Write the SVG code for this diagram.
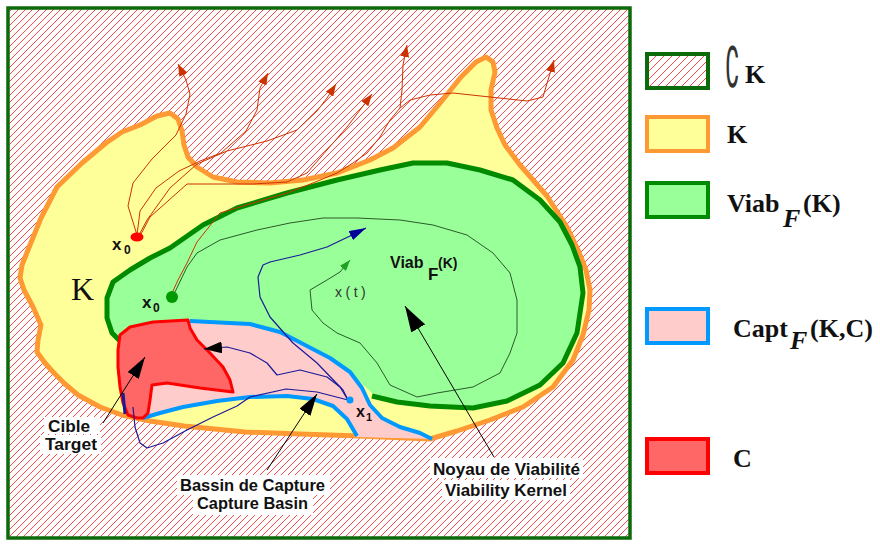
<svg xmlns="http://www.w3.org/2000/svg" width="880" height="544" viewBox="0 0 880 544">
<defs>
<pattern id="hatch" patternUnits="userSpaceOnUse" width="7" height="7">
<rect width="7" height="7" fill="#ffffff"/>
<path d="M-1,1 L1,-1 M0,7 L7,0 M6,8 L8,6" stroke="#ff4848" stroke-width="1"/>
</pattern>
<pattern id="hatch2" patternUnits="userSpaceOnUse" width="8" height="8">
<rect width="8" height="8" fill="#ffffff"/>
<path d="M-1,1 L1,-1 M0,8 L8,0 M7,9 L9,7" stroke="#ff4848" stroke-width="1"/>
</pattern>
<marker id="aOr" markerUnits="userSpaceOnUse" viewBox="0 0 12 9" refX="12" refY="4.5" markerWidth="12" markerHeight="9" orient="auto"><path d="M0,0 L12,4.5 L0,9 Z" fill="#cc3300"/></marker>
<marker id="aGr" markerUnits="userSpaceOnUse" viewBox="0 0 11 8" refX="11" refY="4" markerWidth="11" markerHeight="8" orient="auto"><path d="M0,0 L11,4 L0,8 Z" fill="#22a022"/></marker>
<marker id="aNv" markerUnits="userSpaceOnUse" viewBox="0 0 17 10" refX="17" refY="5" markerWidth="17" markerHeight="10" orient="auto"><path d="M0,0 L17,5 L0,10 Z" fill="#000099"/></marker>
<marker id="aBk" markerUnits="userSpaceOnUse" viewBox="0 0 18 12" refX="18" refY="6" markerWidth="18" markerHeight="12" orient="auto"><path d="M0,0 L18,6 L0,12 Z" fill="#000"/></marker>
<marker id="aPt" markerUnits="userSpaceOnUse" viewBox="0 0 22 13" refX="22" refY="6.5" markerWidth="22" markerHeight="13" orient="auto"><path d="M0,0 L22,6.5 L0,13 Z" fill="#000"/></marker>
<marker id="aPtL" markerUnits="userSpaceOnUse" viewBox="0 0 26 16" refX="26" refY="8" markerWidth="26" markerHeight="16" orient="auto"><path d="M0,0 L26,8 L0,16 Z" fill="#000"/></marker>
</defs>
<style>
.traj{fill:none;stroke:#cc3300;stroke-width:1;stroke-linejoin:round}
.navy{fill:none;stroke:#1a1a99;stroke-width:1.2;stroke-linejoin:round}
.ptr{fill:none;stroke:#000;stroke-width:1}
.lab{font-family:"Liberation Sans",Arial,sans-serif;font-weight:bold;font-size:16px;fill:#111}
.sym{font-family:"Liberation Sans",Arial,sans-serif;font-weight:bold;fill:#111}
.leg{font-family:"Liberation Serif","Times New Roman",serif;font-weight:bold;font-size:26px;fill:#111}
.bg{fill:#ffffff}
</style>
<rect width="880" height="544" fill="#ffffff"/>

<g id="complement">
<rect x="8" y="8" width="622" height="530" fill="url(#hatch)" stroke="#0b6b0b" stroke-width="3.5"/>
</g>

<g id="K">
<path d="M20,278 L24,290 L33,307 L41,325 L38,340 L37,352 L45,363 L53,372 L65,384 L78,395 L100,407 L122,415 L150,421 L184,426 L245,432 L300,434 L359,436 L430,439 L457,431 L490,420 L523,407 L553,387 L573,360 L583,335 L589,310 L590,290 L586,270 L578,250 L567,227 L547,196 L520,165 L505,145 L497,128 L491,110 L491,90 L495,72 L493,62 L486,57 L476,62 L461,77 L441,102 L420,127 L393,148 L370,160 L337,173 L303,180 L270,183 L237,182 L213,177 L197,167 L188,157 L184,145 L182,131 L178,119 L170,113 L157,116 L140,125 L122,132 L106,143 L82,163 L57,187 L41,218 L30,245 L22,265 Z" fill="#ffff99" stroke="#ff9933" stroke-width="5" stroke-linejoin="round"/>
<text x="71" y="300" font-family="Liberation Serif,'Times New Roman',serif" font-size="32" fill="#111">K</text>
</g>

<g id="viab">
<path d="M122,343 L112,333 L107,318 L107,298 L113,282 L130,270 L150,258 L170,248 L203,225 L237,208 L287,193 L337,180 L380,170 L413,163 L447,163 L480,170 L513,180 L540,200 L560,222 L572,245 L580,267 L583,293 L577,333 L563,363 L540,385 L507,401 L473,408 L430,406 L397,402 L376,397 L350,372 L305,345 L250,324 L190,321 L130,328 Z" fill="#99ff99"/>
<path d="M122,343 L112,333 L107,318 L107,298 L113,282 L130,270 L150,258 L170,248 L203,225 L237,208 L287,193 L337,180 L380,170 L413,163 L447,163 L480,170 L513,180 L540,200 L560,222 L572,245 L580,267 L583,293 L577,333 L563,363 L540,385 L507,401 L473,408 L430,406 L397,402 L372,396" fill="none" stroke="#008a00" stroke-width="5" stroke-linejoin="round"/>
<text class="sym" x="390" y="268" font-size="16">Viab</text>
<text class="sym" x="428" y="280" font-size="17">F</text>
<text class="sym" x="438" y="268" font-size="14">(K)</text>
</g>

<g id="capt">
<path d="M190,321 L250,324 L280,332 L305,345 L330,358 L350,372 L362,388 L370,405 L382,418 L400,427 L420,433 L432,439 L357,437 L347,419 L333,406 L313,399 L287,396 L250,397 L217,401 L183,407 L160,413 L143,418 L150,380 L188,330 Z" fill="#ffcccc"/>
<path d="M190,321 L250,324 L280,332 L305,345 L330,358 L350,372 L362,388 L370,405 L382,418 L400,427 L420,433 L432,439" fill="none" stroke="#0099ff" stroke-width="4" stroke-linejoin="round"/>
<path d="M143,418 L160,413 L183,407 L217,401 L250,397 L287,396 L313,399 L333,406 L347,419 L357,436" fill="none" stroke="#0099ff" stroke-width="4" stroke-linejoin="round"/>
</g>

<g id="target">
<path d="M120,335 L130,327 L153,322 L188,320 L190,328 L197,340 L210,353 L223,367 L230,380 L233,392 L200,388 L167,383 L152,385 L150,400 L148,413 L143,418 L137,418 L128,415 L123,403 L120,387 L118,367 L118,350 Z" fill="#ff6666" stroke="#ff0000" stroke-width="3" stroke-linejoin="round"/>
</g>

<g id="connectors">
<path class="traj" d="M137,235 L128,206 L133,183 L152,159 L176,135 L186,114 L190,94 L186,80 L178,64" marker-end="url(#aOr)"/>
<path class="traj" d="M137,235 L140,211 L156,188 L179,171 L200,161 L221,153 L246,131 L257,110 L260,88 L268,73" marker-end="url(#aOr)"/>
<path class="traj" d="M139,235 L147,220 L170,188 L197,164 L227,151 L267,141 L297,130 L317,111 L327,98 L336,84" marker-end="url(#aOr)"/>
<path class="traj" d="M140,236 L150,217 L187,184 L220,184 L253,184 L287,182 L307,173 L327,150 L347,127 L360,110 L372,94" marker-end="url(#aOr)"/>
<path class="traj" d="M172,293 L178,280 L187,263 L197,242 L220,213 L253,203 L287,193 L313,183 L337,173 L353,163 L367,153 L380,137 L390,120 L400,108 L402,90 L403,65 L407,45" stroke="#ee5a00" marker-end="url(#aOr)"/>
<path class="traj" d="M400,108 L410,100 L430,95 L453,93 L490,97 L527,101 L543,97 L548,80 L554,60" marker-end="url(#aOr)"/>
<path d="M175,292 L187,267 L197,253 L220,240 L257,230 L290,223 L323,218 L357,218 L400,220 L433,225 L467,235 L493,253 L510,273 L517,300 L517,333 L510,353 L500,373 L473,387 L437,393 L417,397 L390,385 L377,363 L360,343 L337,333 L323,323 L312,310 L310,290 L327,280 L340,272 L350,260" fill="none" stroke="#2a5a2a" stroke-width="1" stroke-linejoin="round" marker-end="url(#aGr)"/>
<path class="navy" d="M348,400 L343,390 L317,363 L293,343 L270,317 L260,297 L258,277 L263,265 L270,262 L300,255 L327,247 L350,236 L366,228" marker-end="url(#aNv)"/>
<path class="navy" d="M348,400 L340,387 L327,377 L300,370 L277,375 L267,363 L250,353 L227,347 L204,349" marker-end="url(#aBk)"/>
<path class="navy" d="M348,400 L317,392 L286,389 L250,397 L237,406 L213,417 L187,430 L163,443 L147,448 L140,443 L135,427 L133,407"/>
<line x1="123" y1="393" x2="125" y2="414" stroke="#1a1a99" stroke-width="3"/>
<line class="ptr" x1="103" y1="423" x2="145" y2="357" marker-end="url(#aPt)"/>
<line class="ptr" x1="267" y1="470" x2="317" y2="394" marker-end="url(#aPt)"/>
<line class="ptr" x1="494" y1="457" x2="405" y2="306" marker-end="url(#aPtL)"/>
</g>

<g id="points">
<ellipse cx="137" cy="237" rx="6.5" ry="4.5" fill="#ff0000"/>
<text class="sym" x="112" y="250" font-size="17">x</text>
<text class="sym" x="124" y="254" font-size="12">0</text>
<circle cx="172" cy="297" r="6" fill="#009900"/>
<text class="sym" x="142" y="308" font-size="17">x</text>
<text class="sym" x="153" y="312" font-size="12">0</text>
<circle cx="350" cy="400" r="3.5" fill="#0099ff"/>
<text class="sym" x="356" y="417" font-size="16">x</text>
<text class="sym" x="366" y="421" font-size="11">1</text>
<text x="335" y="297" font-family="Liberation Sans,Arial,sans-serif" font-size="14" letter-spacing="3.5" fill="#333">x(t)</text>
</g>

<g id="labels">
<rect class="bg" x="44" y="417" width="56" height="17"/>
<rect class="bg" x="40" y="435" width="61" height="19"/>
<text class="lab" x="48" y="432" textLength="42" lengthAdjust="spacingAndGlyphs">Cible</text>
<text class="lab" x="45" y="450" textLength="52" lengthAdjust="spacingAndGlyphs">Target</text>
<rect class="bg" x="177" y="475" width="153" height="20"/>
<rect class="bg" x="193" y="495" width="120" height="20"/>
<text class="lab" x="180" y="491" font-size="17" textLength="145" lengthAdjust="spacingAndGlyphs">Bassin de Capture</text>
<text class="lab" x="197" y="509" font-size="17" textLength="111" lengthAdjust="spacingAndGlyphs">Capture Basin</text>
<rect class="bg" x="430" y="458" width="153" height="20"/>
<rect class="bg" x="442" y="480" width="128" height="20"/>
<text class="lab" x="433" y="475" font-size="17" textLength="147" lengthAdjust="spacingAndGlyphs">Noyau de Viabilité</text>
<text class="lab" x="445" y="496" font-size="17" textLength="122" lengthAdjust="spacingAndGlyphs">Viability Kernel</text>
</g>

<g id="legend">
<rect x="647" y="54" width="61" height="34" fill="url(#hatch2)" stroke="#0b6b0b" stroke-width="4"/>
<text transform="translate(725,87) scale(0.42,1)" font-family="DejaVu Sans,sans-serif" font-size="56" fill="#333">∁</text>
<text class="leg" x="745" y="83" font-size="24">K</text>
<rect x="647" y="117" width="61" height="34" fill="#ffff99" stroke="#ff9933" stroke-width="4"/>
<text class="leg" x="727" y="143">K</text>
<rect x="647" y="183" width="61" height="34" fill="#99ff99" stroke="#008a00" stroke-width="4"/>
<text class="leg" x="727" y="212">Viab</text>
<text class="leg" x="783" y="227" font-style="italic" font-size="24">F</text>
<text class="leg" x="803" y="212">(K)</text>
<rect x="647" y="309" width="61" height="34" fill="#ffcccc" stroke="#0099ff" stroke-width="4"/>
<text class="leg" x="733" y="337">Capt</text>
<text class="leg" x="790" y="349" font-style="italic" font-size="24">F</text>
<text class="leg" x="810" y="337">(K,C)</text>
<rect x="647" y="439" width="61" height="34" fill="#ff6666" stroke="#ff0000" stroke-width="4"/>
<text class="leg" x="733" y="467">C</text>
</g>
</svg>
